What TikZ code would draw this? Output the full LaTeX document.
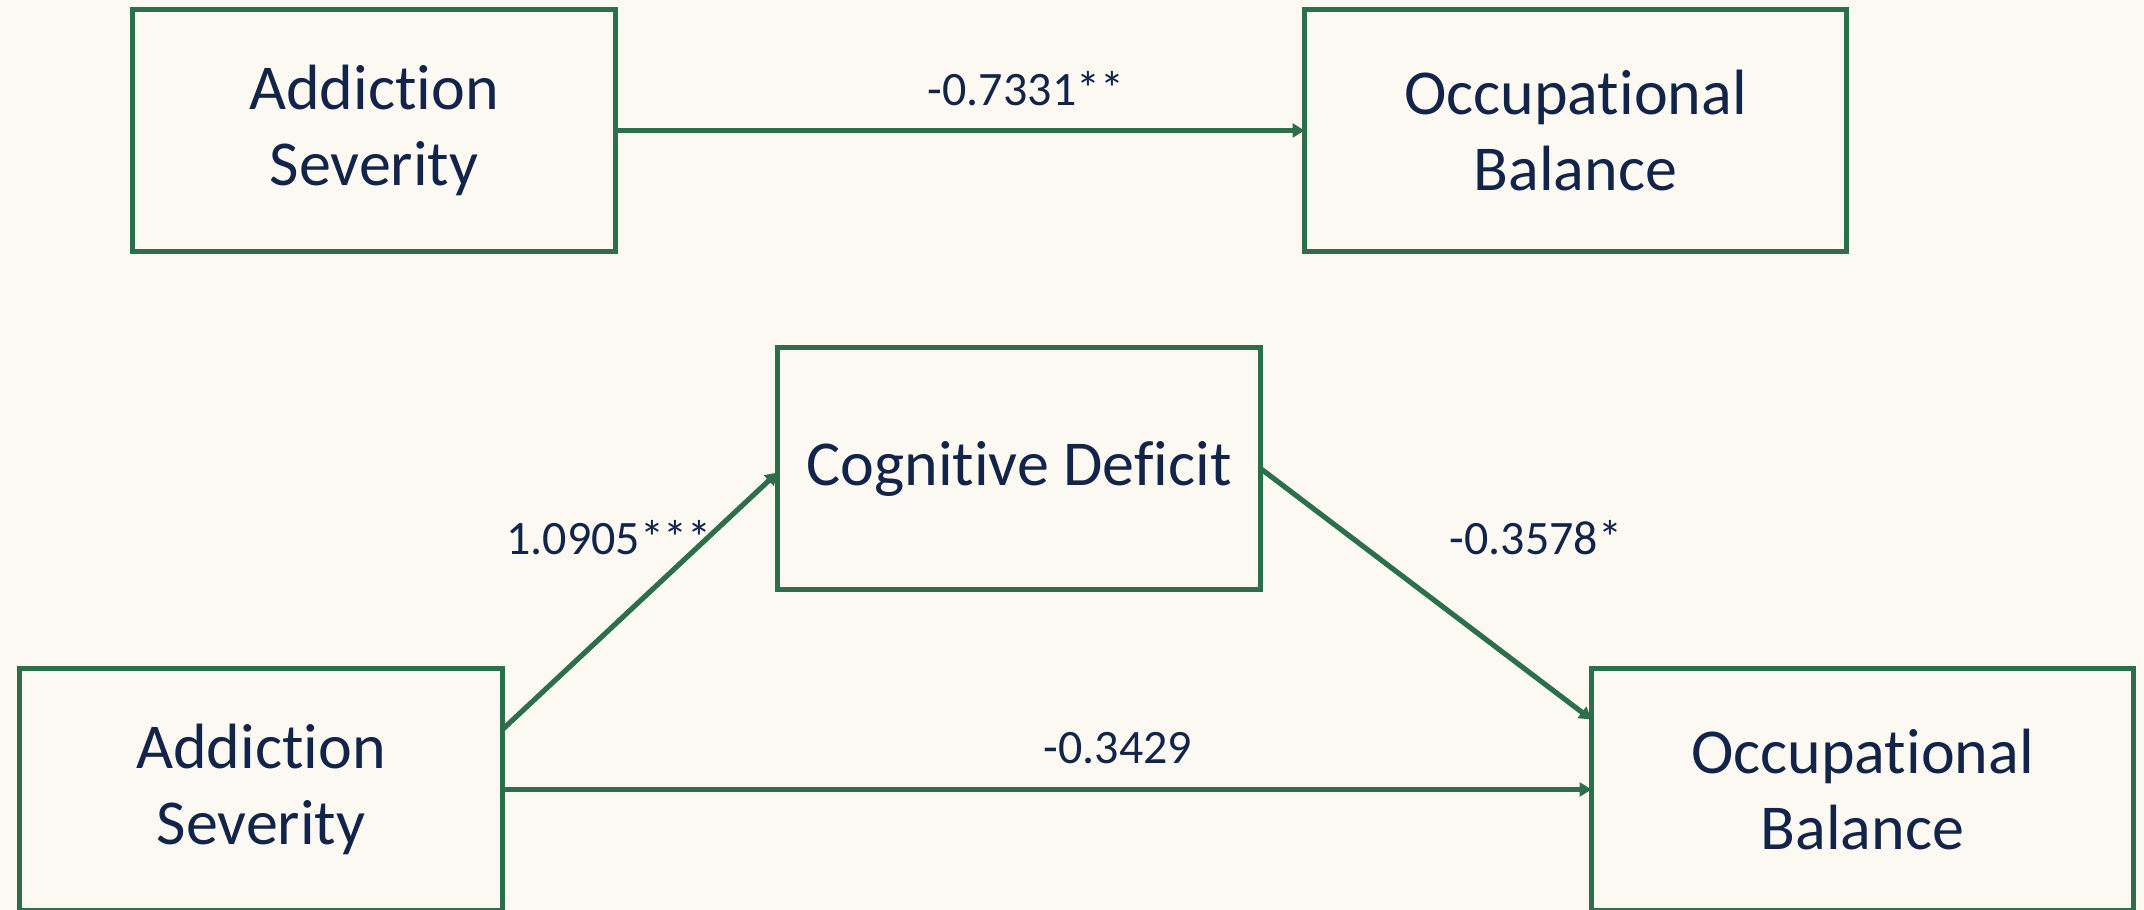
\documentclass[tikz,border=0pt]{standalone}
\usepackage{fontspec}
\setmainfont[Ligatures={NoCommon}]{Carlito}
\usetikzlibrary{arrows.meta,calc}
\definecolor{bgc}{HTML}{FCF9F2}
\definecolor{grn}{HTML}{2E6F4B}
\definecolor{txt}{HTML}{12244A}
\begin{document}
\begin{tikzpicture}[x=0.5pt,y=-0.5pt,
  box/.style={draw=grn, line width=2.7pt, fill=bgc, text=txt, align=center, inner sep=0pt, outer sep=0pt,
    minimum height=121pt, font=\fontsize{32}{38}\selectfont},
  narrowbox/.style={box, minimum width=241.5pt},
  widebox/.style={box, minimum width=271pt},
  conn/.style={draw=grn, line width=2.6pt, -{Triangle[length=6pt,width=7pt]}},
  lab/.style={text=txt, font=\fontsize{24}{28}\selectfont, inner sep=0pt}]
\fill[bgc] (0,0) rectangle (2144,910);
\clip (0,0) rectangle (2144,910);
% top model
\node[narrowbox] (tl) at (374,130.5) {Addiction\\Severity};
\node[widebox] (tr) at (1575.5,130.5) {Occupational\\Balance};
\draw[conn] (tl.east) -- (tr.west);
\node[lab] (l1) at (1026,89) {-0.7331**};
% mediation model
\node[narrowbox] (cd) at (1019,468.5) {Cognitive Deficit};
\node[narrowbox] (bl) at (261,789.5) {Addiction\\Severity};
\node[widebox] (br) at (1862.5,789.5) {Occupational\\Balance};
\draw[conn] ($(bl.east)+(0,-60)$) -- ($(cd.west)+(0,4)$);
\draw[conn] (cd.east) -- ($(br.west)+(0,-70)$);
\draw[conn] (bl.east) -- (br.west);
\node[lab] (l2) at (609,538) {1.0905***};
\node[lab] (l3) at (1536,538) {-0.3578*};
\node[lab] (l4) at (1118,748) {-0.3429};
\end{tikzpicture}
\end{document}
